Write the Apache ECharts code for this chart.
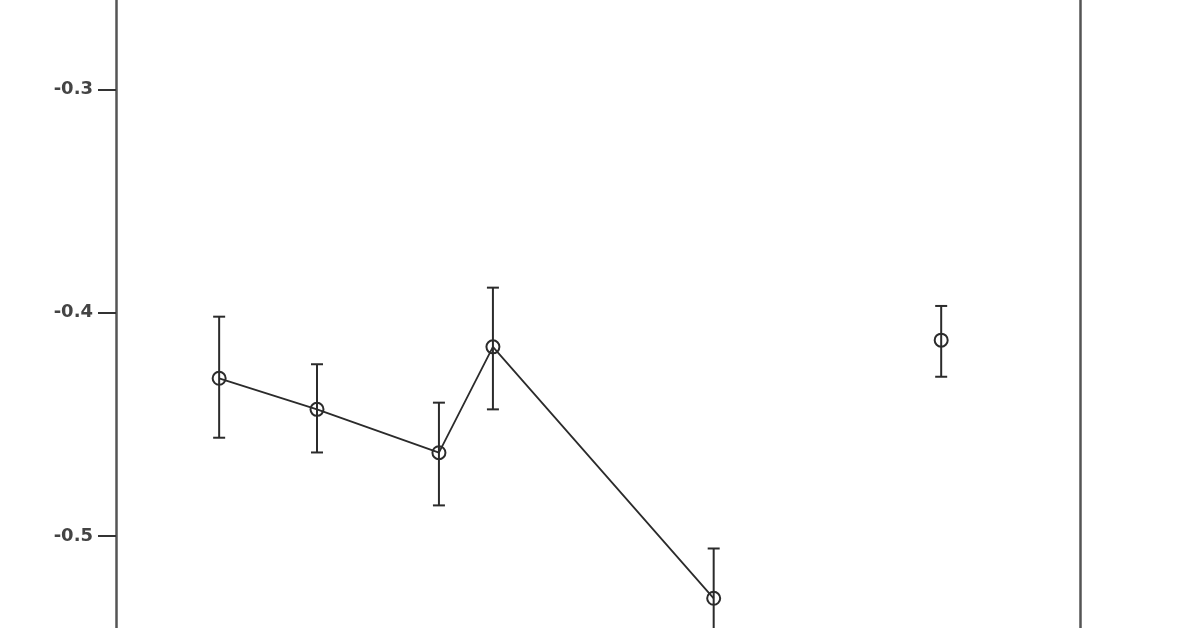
<!DOCTYPE html>
<html>
<head>
<meta charset="utf-8">
<script src="https://cdn.jsdelivr.net/npm/echarts@6/dist/echarts.min.js"></script>
<style>
html,body{margin:0;padding:0;background:#fff;}
#chart{width:1196px;height:628px;}
</style>
</head>
<body>
<div id="chart"></div>
<script>
// Connected series (x position on hidden numeric axis, mean, lower, upper)
var lineX     = [10.7, 20.85, 33.5, 39.1, 62.0];
var lineMean  = [-0.4294, -0.4433, -0.4627, -0.4153, -0.5279];
var lineLow   = [-0.4560, -0.4626, -0.4863, -0.4433, -0.5502];
var lineHigh  = [-0.4018, -0.4231, -0.4403, -0.3888, -0.5056];
// Isolated point
var soloX     = [85.6];
var soloMean  = [-0.4123];
var soloLow   = [-0.4287];
var soloHigh  = [-0.3970];
// Y tick labels
var yTicks    = [-0.5, -0.4, -0.3];

var chart = echarts.init(document.getElementById('chart'));

var lineData = lineX.map(function(x,i){ return [x, lineMean[i]]; });
var soloData = soloX.map(function(x,i){ return [x, soloMean[i]]; });
var errData = lineX.map(function(x,i){ return [x, lineLow[i], lineHigh[i]]; })
  .concat(soloX.map(function(x,i){ return [x, soloLow[i], soloHigh[i]]; }));

var ink = '#2b2b2b';

function renderErr(params, api){
  var x = api.value(0);
  var lo = api.coord([x, api.value(1)]);
  var hi = api.coord([x, api.value(2)]);
  var hw = 6;
  var st = {stroke: ink, lineWidth: 2};
  return {
    type: 'group',
    children: [
      {type:'line', shape:{x1:lo[0], y1:lo[1], x2:hi[0], y2:hi[1]}, style: st},
      {type:'line', shape:{x1:lo[0]-hw, y1:lo[1], x2:lo[0]+hw, y2:lo[1]}, style: st},
      {type:'line', shape:{x1:hi[0]-hw, y1:hi[1], x2:hi[0]+hw, y2:hi[1]}, style: st}
    ]
  };
}

chart.setOption({
  animation: false,
  backgroundColor: '#ffffff',
  grid: {left: 116, right: 116, top: 0, bottom: 0, containLabel: false},
  xAxis: {
    type: 'value', min: 0, max: 100,
    show: false
  },
  yAxis: [{
    type: 'value',
    min: -0.5412, max: -0.26,
    position: 'left',
    axisLine: {show: true, lineStyle: {color: '#555', width: 2.5}},
    axisTick: {show: true, length: 18, customValues: yTicks, lineStyle: {color: '#333', width: 2}},
    axisLabel: {
      show: true, customValues: yTicks, margin: 23,
      fontFamily: 'DejaVu Sans', fontSize: 18, fontWeight: 'bold', color: '#444',
      formatter: function(v){ return v.toFixed(1); }
    },
    splitLine: {show: false}
  }, {
    type: 'value',
    min: -0.5412, max: -0.26,
    position: 'right',
    axisLine: {show: true, lineStyle: {color: '#555', width: 2.5}},
    axisTick: {show: false},
    axisLabel: {show: false},
    splitLine: {show: false}
  }],
  series: [
    {
      type: 'custom',
      renderItem: renderErr,
      data: errData,
      encode: {x: 0, y: [1, 2]},
      z: 2
    },
    {
      type: 'line',
      data: lineData,
      symbol: 'circle',
      symbolSize: 13,
      showSymbol: true,
      lineStyle: {color: ink, width: 1.8},
      itemStyle: {color: 'rgba(255,255,255,0)', borderColor: ink, borderWidth: 2},
      z: 3
    },
    {
      type: 'scatter',
      data: soloData,
      symbol: 'circle',
      symbolSize: 13,
      itemStyle: {color: 'rgba(255,255,255,0)', borderColor: ink, borderWidth: 2, opacity: 1},
      z: 3
    }
  ]
});
</script>
</body>
</html>
